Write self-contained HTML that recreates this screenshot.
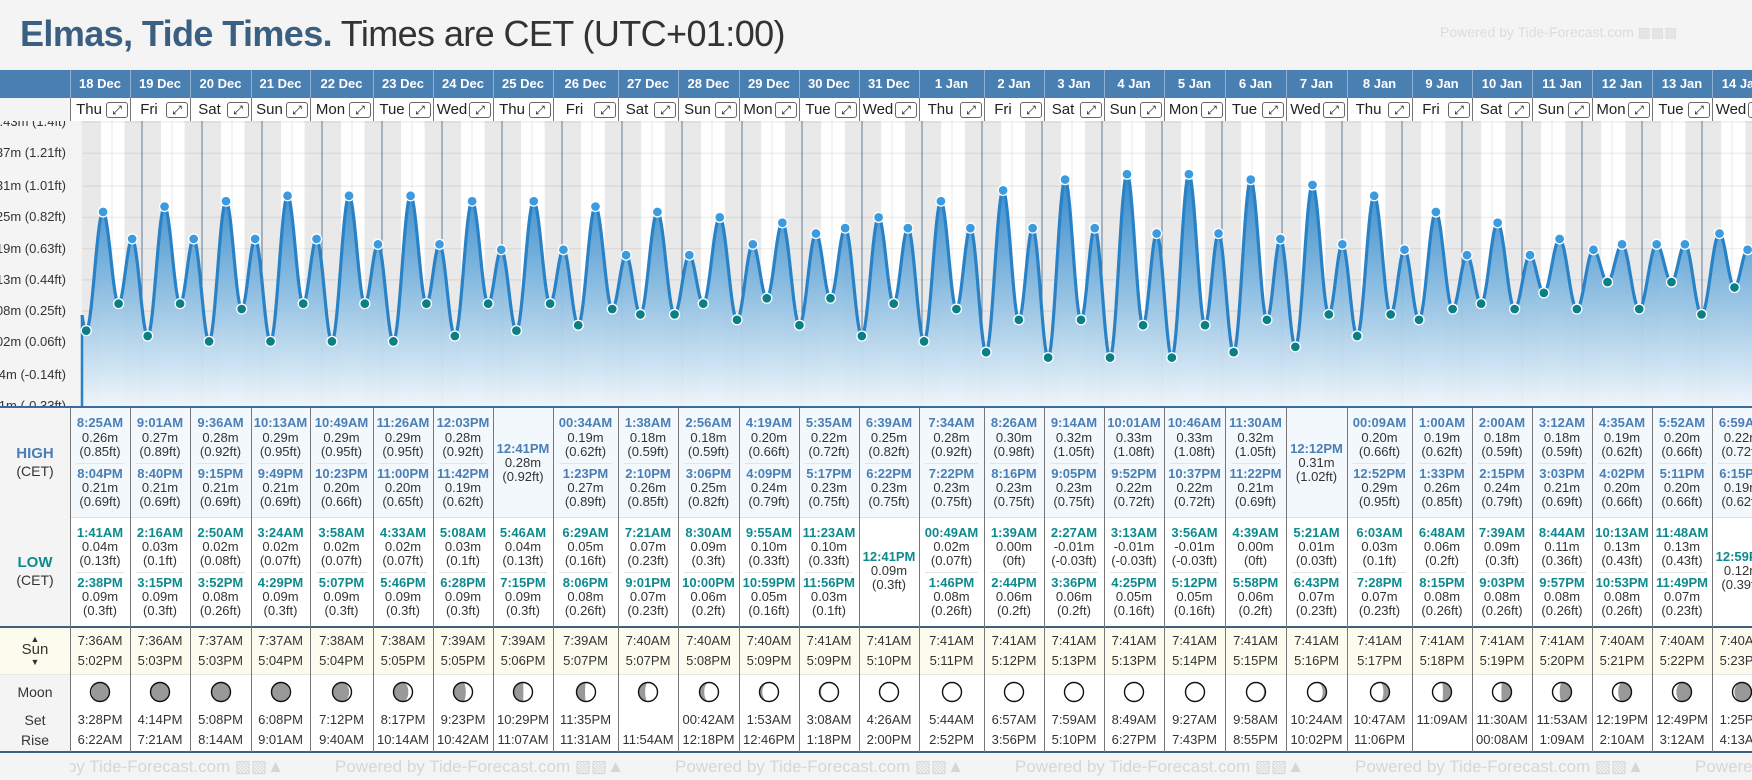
<!DOCTYPE html>
<html><head><meta charset="utf-8">
<style>
html,body{margin:0;padding:0;}
body{width:1752px;height:780px;overflow:hidden;position:relative;background:#f4f4f4;font-family:"Liberation Sans",sans-serif;color:#333;}
.a{position:absolute;}
.t{position:absolute;text-align:center;white-space:nowrap;line-height:16px;height:16px;}
.hi{color:#4a7fb5;font-weight:bold;font-size:13px;}
.lo{color:#0e8a8f;font-weight:bold;font-size:13px;}
.v{font-size:13px;color:#333;}
.lab{position:absolute;left:0;width:70px;text-align:center;white-space:nowrap;line-height:16px;}
</style></head>
<body>
<div class="a" style="left:20px;top:14px;font-size:36px;line-height:40px;white-space:nowrap;letter-spacing:-0.6px;"><b style="color:#3b5f80">Elmas, Tide Times.</b> <span style="color:#333">Times are CET (UTC+01:00)</span></div>
<div class="a" style="left:1440px;top:24px;font-size:14px;color:#dcdcdc;white-space:nowrap;">Powered by Tide-Forecast.com &#9641;&#9641;&#9641;</div>

<div class="a" style="left:0;top:70px;width:1752px;height:28px;background:#4a7fb1;"></div>
<div class="a" style="left:70px;top:98px;width:1682px;height:23px;background:#fff;border-bottom:1px solid #bbb;"></div>
<div class="a" style="left:0;top:98px;width:70px;height:310px;background:#f4f4f4;border-right:1px solid #777;"></div>
<div class="a" style="left:70px;top:408px;width:1682px;height:109px;background:#f3f8fd;border-bottom:1px solid #e2e2e2;"></div>
<div class="a" style="left:70px;top:518px;width:1682px;height:109px;background:#fff;"></div>
<div class="a" style="left:0;top:408px;width:70px;height:219px;background:#f4f4f4;border-right:1px solid #777;"></div>
<div class="a" style="left:0;top:628px;width:1752px;height:46px;background:#fcfcee;border-bottom:1px solid #e6e6e6;"></div>
<div class="a" style="left:70px;top:675px;width:1682px;height:77px;background:#fff;"></div>
<div class="a" style="left:0;top:406px;width:1752px;height:2px;background:#3a6d9a;"></div>
<div class="a" style="left:0;top:626px;width:1752px;height:2px;background:#3e5f7e;"></div>
<div class="a" style="left:0;top:751px;width:1752px;height:2px;background:#3e5f7e;"></div>

<div class="lab" style="top:446px;color:#4a7fb5;font-weight:bold;font-size:15px;">HIGH</div>
<div class="lab" style="top:463px;font-size:14px;">(CET)</div>
<div class="lab" style="top:555px;color:#0e8a8f;font-weight:bold;font-size:15px;">LOW</div>
<div class="lab" style="top:572px;font-size:14px;">(CET)</div>
<div class="lab" style="top:631px;font-size:9px;">&#9650;</div>
<div class="lab" style="top:642px;font-size:15px;">Sun</div>
<div class="lab" style="top:654px;font-size:9px;">&#9660;</div>
<div class="lab" style="top:684px;font-size:14px;">Moon</div>
<div class="lab" style="top:712px;font-size:14px;">Set</div>
<div class="lab" style="top:732px;font-size:14px;">Rise</div>

<div id="ylabels" class="a" style="left:0;top:121px;width:70px;height:285px;overflow:hidden;"></div>
<svg id="chart" class="a" style="left:70px;top:121px;" width="1682" height="285" viewBox="70 121 1682 285"></svg>
<div id="cols" class="a" style="left:0;top:0;width:1752px;height:780px;"></div>
<div id="footer" class="a" style="left:70px;top:753px;width:1682px;height:27px;overflow:hidden;background:#f4f4f4;"></div>

<script>
const dates=["18 Dec","19 Dec","20 Dec","21 Dec","22 Dec","23 Dec","24 Dec","25 Dec","26 Dec","27 Dec","28 Dec","29 Dec","30 Dec","31 Dec","1 Jan","2 Jan","3 Jan","4 Jan","5 Jan","6 Jan","7 Jan","8 Jan","9 Jan","10 Jan","11 Jan","12 Jan","13 Jan","14 Jan"];
const weekdays=["Thu","Fri","Sat","Sun","Mon","Tue","Wed","Thu","Fri","Sat","Sun","Mon","Tue","Wed","Thu","Fri","Sat","Sun","Mon","Tue","Wed","Thu","Fri","Sat","Sun","Mon","Tue","Wed"];
const high1Time=["8:25AM","9:01AM","9:36AM","10:13AM","10:49AM","11:26AM","12:03PM","12:41PM","00:34AM","1:38AM","2:56AM","4:19AM","5:35AM","6:39AM","7:34AM","8:26AM","9:14AM","10:01AM","10:46AM","11:30AM","12:12PM","00:09AM","1:00AM","2:00AM","3:12AM","4:35AM","5:52AM","6:59AM"];
const high1M=[0.26,0.27,0.28,0.29,0.29,0.29,0.28,0.28,0.19,0.18,0.18,0.20,0.22,0.25,0.28,0.30,0.32,0.33,0.33,0.32,0.31,0.20,0.19,0.18,0.18,0.19,0.20,0.22];
const high1Ft=["0.85","0.89","0.92","0.95","0.95","0.95","0.92","0.92","0.62","0.59","0.59","0.66","0.72","0.82","0.92","0.98","1.05","1.08","1.08","1.05","1.02","0.66","0.62","0.59","0.59","0.62","0.66","0.72"];
const high2Time=["8:04PM","8:40PM","9:15PM","9:49PM","10:23PM","11:00PM","11:42PM",null,"1:23PM","2:10PM","3:06PM","4:09PM","5:17PM","6:22PM","7:22PM","8:16PM","9:05PM","9:52PM","10:37PM","11:22PM",null,"12:52PM","1:33PM","2:15PM","3:03PM","4:02PM","5:11PM","6:15PM"];
const high2M=[0.21,0.21,0.21,0.21,0.20,0.20,0.19,null,0.27,0.26,0.25,0.24,0.23,0.23,0.23,0.23,0.23,0.22,0.22,0.21,null,0.29,0.26,0.24,0.21,0.20,0.20,0.19];
const high2Ft=["0.69","0.69","0.69","0.69","0.66","0.65","0.62",null,"0.89","0.85","0.82","0.79","0.75","0.75","0.75","0.75","0.75","0.72","0.72","0.69",null,"0.95","0.85","0.79","0.69","0.66","0.66","0.62"];
const low1Time=["1:41AM","2:16AM","2:50AM","3:24AM","3:58AM","4:33AM","5:08AM","5:46AM","6:29AM","7:21AM","8:30AM","9:55AM","11:23AM","12:41PM","00:49AM","1:39AM","2:27AM","3:13AM","3:56AM","4:39AM","5:21AM","6:03AM","6:48AM","7:39AM","8:44AM","10:13AM","11:48AM","12:59PM"];
const low1M=[0.04,0.03,0.02,0.02,0.02,0.02,0.03,0.04,0.05,0.07,0.09,0.10,0.10,0.09,0.02,0.00,-0.01,-0.01,-0.01,0.00,0.01,0.03,0.06,0.09,0.11,0.13,0.13,0.12];
const low1Ft=["0.13","0.1","0.08","0.07","0.07","0.07","0.1","0.13","0.16","0.23","0.3","0.33","0.33","0.3","0.07","0","-0.03","-0.03","-0.03","0","0.03","0.1","0.2","0.3","0.36","0.43","0.43","0.39"];
const low2Time=["2:38PM","3:15PM","3:52PM","4:29PM","5:07PM","5:46PM","6:28PM","7:15PM","8:06PM","9:01PM","10:00PM","10:59PM","11:56PM",null,"1:46PM","2:44PM","3:36PM","4:25PM","5:12PM","5:58PM","6:43PM","7:28PM","8:15PM","9:03PM","9:57PM","10:53PM","11:49PM",null];
const low2M=[0.09,0.09,0.08,0.09,0.09,0.09,0.09,0.09,0.08,0.07,0.06,0.05,0.03,null,0.08,0.06,0.06,0.05,0.05,0.06,0.07,0.07,0.08,0.08,0.08,0.08,0.07,null];
const low2Ft=["0.3","0.3","0.26","0.3","0.3","0.3","0.3","0.3","0.26","0.23","0.2","0.16","0.1",null,"0.26","0.2","0.2","0.16","0.16","0.2","0.23","0.23","0.26","0.26","0.26","0.26","0.23",null];
const sunrise=["7:36AM","7:36AM","7:37AM","7:37AM","7:38AM","7:38AM","7:39AM","7:39AM","7:39AM","7:40AM","7:40AM","7:40AM","7:41AM","7:41AM","7:41AM","7:41AM","7:41AM","7:41AM","7:41AM","7:41AM","7:41AM","7:41AM","7:41AM","7:41AM","7:41AM","7:40AM","7:40AM","7:40AM"];
const sunset=["5:02PM","5:03PM","5:03PM","5:04PM","5:04PM","5:05PM","5:05PM","5:06PM","5:07PM","5:07PM","5:08PM","5:09PM","5:09PM","5:10PM","5:11PM","5:12PM","5:13PM","5:13PM","5:14PM","5:15PM","5:16PM","5:17PM","5:18PM","5:19PM","5:20PM","5:21PM","5:22PM","5:23PM"];
const moonSet=["3:28PM","4:14PM","5:08PM","6:08PM","7:12PM","8:17PM","9:23PM","10:29PM","11:35PM","","00:42AM","1:53AM","3:08AM","4:26AM","5:44AM","6:57AM","7:59AM","8:49AM","9:27AM","9:58AM","10:24AM","10:47AM","11:09AM","11:30AM","11:53AM","12:19PM","12:49PM","1:25PM"];
const moonRise=["6:22AM","7:21AM","8:14AM","9:01AM","9:40AM","10:14AM","10:42AM","11:07AM","11:31AM","11:54AM","12:18PM","12:46PM","1:18PM","2:00PM","2:52PM","3:56PM","5:10PM","6:27PM","7:43PM","8:55PM","10:02PM","11:06PM","","00:08AM","1:09AM","2:10AM","3:12AM","4:13AM"];
const moonIllum=[0.06,0,0,0.05,0.12,0.22,0.35,0.48,0.55,0.65,0.75,0.85,0.92,0.96,0.98,1,1,1,0.98,0.92,0.8,0.68,0.55,0.47,0.38,0.3,0.2,0.1];
const moonWaxing=[false,true,true,true,true,true,true,true,true,true,true,true,true,true,true,true,true,false,false,false,false,false,false,false,false,false,false,false];
const yTickM=["-0.1m","-0.04m","0.02m","0.08m","0.13m","0.19m","0.25m","0.31m","0.37m","0.43m"];
const yTickFt=[-0.33,-0.14,0.06,0.25,0.44,0.63,0.82,1.01,1.21,1.4];
const priorHighDay=-1, priorHighTime="7:28PM", priorHighM=0.21;

const colLeft=[70,130,190,251,310,373,433,493,553,618,678,739,799,859,919,984,1044,1104,1164,1225,1286,1347,1412,1472,1532,1592,1652,1712];
const NS="http://www.w3.org/2000/svg";
function hrs(s){const m=s.match(/(\d+):(\d+)(AM|PM)/);let h=parseInt(m[1])%12;if(m[3]==="PM")h+=12;return h+parseInt(m[2])/60;}
function xT(d,h){return 82+d*60+h*2.5;}
function yM(m){return 352.2-539.4*m;}
function sv(tag,attrs,parent){const e=document.createElementNS(NS,tag);for(const k in attrs)e.setAttribute(k,attrs[k]);parent.appendChild(e);return e;}
const svg=document.getElementById('chart');

const defs=sv('defs',{},svg);
const g=sv('linearGradient',{id:'fillg',x1:0,y1:0,x2:0,y2:1},defs);
sv('stop',{offset:'0','stop-color':'#2a83c8'},g);
sv('stop',{offset:'0.45','stop-color':'#7fb6de'},g);
sv('stop',{offset:'1','stop-color':'#eef5fb'},g);

const bg=sv('rect',{x:70,y:121,width:1682,height:285,fill:'#f3f3f3'},svg);


for(let d=0;d<dates.length+1;d++){
  const sr=d<dates.length?hrs(sunrise[d]):7.68;
  const prevSs=d>0?hrs(sunset[d-1]):0;
  const x0=d>0?xT(d-1,prevSs):82;
  const x1=xT(d,sr);
  const n=sv('rect',{x:x0,y:121,width:Math.max(0,x1-x0),height:285,fill:'#e9e9e9'},svg);
  
  
  if(d<dates.length){
    const ss=hrs(sunset[d]);
    const w=sv('rect',{x:x1,y:121,width:xT(d,ss)-x1,height:285,fill:'#ffffff'},svg);
    
    
  }
}
for(let i=0;i<yTickFt.length;i++){
  const y=yM(yTickFt[i]*0.3048);
  const l=sv('line',{x1:82,x2:1752,y1:y,y2:y,stroke:'rgba(0,0,0,0.06)','stroke-width':1.5},svg);
  
  
  const lab=document.createElement('div');
  
  
  lab.style.cssText='position:absolute;right:4px;top:'+(y-121-8)+'px;font-size:13px;line-height:16px;white-space:nowrap;color:#333;';
  lab.textContent=yTickM[i]+' ('+yTickFt[i]+'ft)';
  document.getElementById('ylabels').appendChild(lab);
}
for(let d=0;d<dates.length;d++){
  const n=sv('line',{x1:xT(d,12),x2:xT(d,12),y1:121,y2:406,stroke:'rgba(0,0,0,0.06)','stroke-width':1.5},svg);
  
  
  if(d>0){
    const l=sv('line',{x1:xT(d,0),x2:xT(d,0),y1:121,y2:406,stroke:'#5b7a96','stroke-width':1},svg);
    
    
  }
}
const ext=[{t:xT(priorHighDay,hrs(priorHighTime)),m:priorHighM,hi:true,show:false}];
for(let d=0;d<dates.length;d++){
  if(high1Time[d])ext.push({t:xT(d,hrs(high1Time[d])),m:high1M[d],hi:true,show:true});
  if(high2Time[d])ext.push({t:xT(d,hrs(high2Time[d])),m:high2M[d],hi:true,show:true});
  if(low1Time[d])ext.push({t:xT(d,hrs(low1Time[d])),m:low1M[d],hi:false,show:true});
  if(low2Time[d])ext.push({t:xT(d,hrs(low2Time[d])),m:low2M[d],hi:false,show:true});
}
ext.sort((a,b)=>a.t-b.t);
function valAt(x){
  for(let i=0;i<ext.length-1;i++){
    if(x>=ext[i].t&&x<=ext[i+1].t){const f=(x-ext[i].t)/(ext[i+1].t-ext[i].t);return ext[i+1].m+(ext[i].m-ext[i+1].m)*(1+Math.cos(Math.PI*f))/2;}
  }
  return ext[ext.length-1].m;
}
let pts=[];
for(let x=82;x<=1752;x+=1)pts.push([x,yM(valAt(x))]);
let dl='M'+pts.map(p=>p[0]+','+p[1].toFixed(2)).join(' L');
const area=sv('path',{d:dl+' L1752,406 L82,406 Z',fill:'url(#fillg)',opacity:0.95},svg);


const line=sv('path',{d:dl,fill:'none',stroke:'#2a82c6','stroke-width':3.2,'stroke-linejoin':'round'},svg);


const sl=sv('line',{x1:82,x2:82,y1:pts[0][1],y2:406,stroke:'#2a82c6','stroke-width':2.5},svg);


for(const e of ext){
  if(!e.show)continue;
  const c=sv('circle',{cx:e.t,cy:yM(e.m),r:5,fill:e.hi?'#3b9be0':'#0b7f86',stroke:'#fff','stroke-width':1.3},svg);
  
  
}

const cols=document.getElementById('cols');
function txt(parent,x,w,cy,s,cls,name){
  const e=document.createElement('div');
  e.className='t '+cls;
  e.style.left=x+'px';e.style.width=w+'px';e.style.top=(cy-8)+'px';
  e.textContent=s;
  
  
  parent.appendChild(e);return e;
}
function box(parent,css,name){
  const e=document.createElement('div');
  e.style.cssText='position:absolute;'+css;
  
  
  parent.appendChild(e);return e;
}
for(let d=0;d<dates.length;d++){
  const x=colLeft[d];
  const w=(d<dates.length-1?colLeft[d+1]:x+60)-x;
  box(cols,'left:'+x+'px;top:70px;width:1px;height:28px;background:#8db0d2;','header-divider');
  box(cols,'left:'+x+'px;top:98px;width:1px;height:23px;background:#777;','day-divider-top');
  box(cols,'left:'+x+'px;top:408px;width:1px;height:344px;background:#777;','column-divider');
  const dl=txt(cols,x,w,84,dates[d],'','date-label');
  dl.style.color='#fff';dl.style.fontWeight='bold';dl.style.fontSize='13px';
  const wd=txt(cols,x+2,w-26,110,weekdays[d],'','weekday-label');
  wd.style.fontSize='15px';wd.style.color='#222';
  const b=document.createElement('div');
  
  
  b.style.cssText='position:absolute;left:'+(x+w-24)+'px;top:102px;width:20px;height:14px;border:1px solid #666;border-radius:3px;background:#fff;font-size:12px;line-height:14px;text-align:center;color:#111;';
  b.textContent='\u2922';
  cols.appendChild(b);
  if(high2Time[d]){
    txt(cols,x,w,423,high1Time[d],'hi','high-tide-time');
    txt(cols,x,w,438,high1M[d].toFixed(2)+'m','v','high-tide-height');
    txt(cols,x,w,452,'('+high1Ft[d]+'ft)','v','high-tide-height-ft');
    box(cols,'left:'+(x+6)+'px;top:463px;width:'+(w-12)+'px;height:1px;background:#e4e4e4;','high-row-separator');
    txt(cols,x,w,474,high2Time[d],'hi','high-tide-time');
    txt(cols,x,w,488,high2M[d].toFixed(2)+'m','v','high-tide-height');
    txt(cols,x,w,502,'('+high2Ft[d]+'ft)','v','high-tide-height-ft');
  } else {
    txt(cols,x,w,449,high1Time[d],'hi','high-tide-time');
    txt(cols,x,w,463,high1M[d].toFixed(2)+'m','v','high-tide-height');
    txt(cols,x,w,477,'('+high1Ft[d]+'ft)','v','high-tide-height-ft');
  }
  if(low2Time[d]){
    txt(cols,x,w,533,low1Time[d],'lo','low-tide-time');
    txt(cols,x,w,547,low1M[d].toFixed(2)+'m','v','low-tide-height');
    txt(cols,x,w,561,'('+low1Ft[d]+'ft)','v','low-tide-height-ft');
    box(cols,'left:'+(x+6)+'px;top:572px;width:'+(w-12)+'px;height:1px;background:#e4e4e4;','low-row-separator');
    txt(cols,x,w,583,low2Time[d],'lo','low-tide-time');
    txt(cols,x,w,597,low2M[d].toFixed(2)+'m','v','low-tide-height');
    txt(cols,x,w,611,'('+low2Ft[d]+'ft)','v','low-tide-height-ft');
  } else {
    txt(cols,x,w,557,low1Time[d],'lo','low-tide-time');
    txt(cols,x,w,571,low1M[d].toFixed(2)+'m','v','low-tide-height');
    txt(cols,x,w,585,'('+low1Ft[d]+'ft)','v','low-tide-height-ft');
  }
  txt(cols,x,w,641,sunrise[d],'v','sunrise-time');
  txt(cols,x,w,661,sunset[d],'v','sunset-time');
  txt(cols,x,w,720,moonSet[d],'v','moonset-time');
  txt(cols,x,w,740,moonRise[d],'v','moonrise-time');
  const ms=document.createElementNS(NS,'svg');
  ms.setAttribute('width',24);ms.setAttribute('height',24);
  
  
  ms.style.cssText='position:absolute;left:'+(x+w/2-12)+'px;top:680px;';
  cols.appendChild(ms);
  const r=9.5,cx=12,cy=12,f=moonIllum[d];
  sv('circle',{cx:cx,cy:cy,r:r,fill:'#999'},ms);
  if(f>=0.99)sv('circle',{cx:cx,cy:cy,r:r,fill:'#fff'},ms);
  else if(f>0.01){
    const rx=r*Math.abs(1-2*f);
    let s1,s2;
    if(moonWaxing[d]){s1=1;s2=f<0.5?0:1;}else{s1=0;s2=f<0.5?1:0;}
    sv('path',{d:'M'+cx+','+(cy-r)+' A'+r+','+r+' 0 0 '+s1+' '+cx+','+(cy+r)+' A'+rx+','+r+' 0 0 '+s2+' '+cx+','+(cy-r)+' Z',fill:'#fff'},ms);
  }
  sv('circle',{cx:cx,cy:cy,r:r,fill:'none',stroke:'#111','stroke-width':1.4},ms);
}
const ft=document.getElementById('footer');
for(let i=0;i<6;i++){
  const e=document.createElement('div');
  
  
  e.style.cssText='position:absolute;left:'+(-75+i*340)+'px;top:4px;font-size:17px;line-height:20px;color:#d6d6d6;white-space:nowrap;';
  e.textContent='Powered by Tide-Forecast.com \u25A7\u25A7\u25B2';
  ft.appendChild(e);
}
</script>
</body></html>
